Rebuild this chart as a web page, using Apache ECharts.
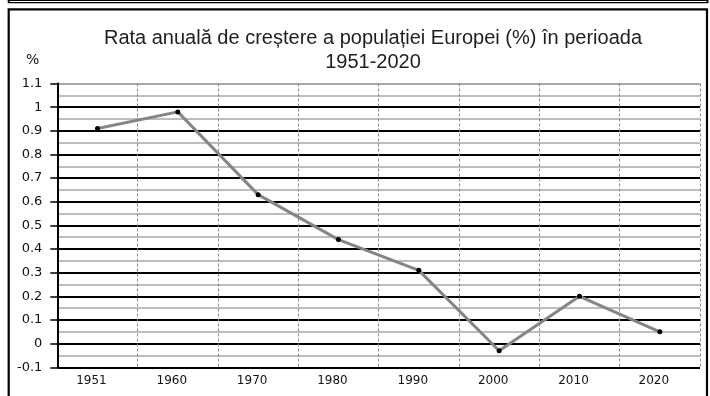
<!DOCTYPE html>
<html>
<head>
<meta charset="utf-8">
<script src="https://cdn.jsdelivr.net/npm/echarts@6/dist/echarts.min.js"></script>
<style>
  html, body { margin: 0; padding: 0; background: #fff; }
  #chart { width: 710px; height: 396px; }
</style>
</head>
<body>
<div id="chart"></div>
<script>
// Annual growth rate of Europe's population, 1951-2020
const years = ['1951', '1960', '1970', '1980', '1990', '2000', '2010', '2020'];
const growthRate = [0.91, 0.98, 0.63, 0.44, 0.31, -0.03, 0.20, 0.05];
const titleLines = ['Rata anuală de creștere a populației Europei (%) în perioada', '1951-2020'];
const unitLabel = '%';

const yMin = -0.1, yMax = 1.1, yStep = 0.1;

// major gridlines are black, the top edge line is grey
const majorCount = Math.round((yMax - yMin) / yStep) + 1;
const majorColors = [];
for (let i = 0; i < majorCount; i++) majorColors.push(i === majorCount - 1 ? '#a8a8a8' : '#000');

const chart = echarts.init(document.getElementById('chart'), null, { renderer: 'canvas' });

chart.setOption({
  animation: false,
  backgroundColor: '#fff',
  title: {
    text: titleLines.join('\n'),
    left: 368,
    textAlign: 'center',
    top: 21,
    textStyle: {
      fontFamily: 'Liberation Sans',
      fontSize: 20,
      fontWeight: 'normal',
      color: '#1e1e1e',
      lineHeight: 24
    }
  },
  graphic: [
    // frame around the chart
    { type: 'rect', shape: { x: 8.7, y: 9.3, width: 698.3, height: 400 },
      style: { fill: 'none', stroke: '#000', lineWidth: 2.2 }, z: 100 },
    // edge of the box above
    { type: 'line', shape: { x1: 8, y1: 0.5, x2: 708, y2: 0.5 }, style: { stroke: '#000', lineWidth: 1.2 }, z: 100 },
    { type: 'line', shape: { x1: 8, y1: 2.7, x2: 708, y2: 2.7 }, style: { stroke: '#000', lineWidth: 1.2 }, z: 100 },
    { type: 'line', shape: { x1: 8.7, y1: 0, x2: 8.7, y2: 3 }, style: { stroke: '#000', lineWidth: 2 }, z: 100 },
    { type: 'line', shape: { x1: 707.5, y1: 0, x2: 707.5, y2: 3 }, style: { stroke: '#000', lineWidth: 2 }, z: 100 },
    // unit label
    { type: 'text', left: 26, top: 53,
      style: { text: unitLabel, font: '14px "DejaVu Sans"', fill: '#111' } }
  ],
  grid: { left: 57.3, right: 10, top: 83.5, bottom: 28.7, containLabel: false },
  xAxis: {
    type: 'category',
    data: years,
    boundaryGap: true,
    axisLine: { show: false },
    axisTick: { show: false },
    axisLabel: {
      fontFamily: 'DejaVu Sans',
      fontSize: 12,
      color: '#111',
      margin: 8,
      padding: [0, 12, 0, 0],
      interval: 0
    },
    splitLine: {
      show: true,
      interval: 0,
      lineStyle: { color: '#8c8c8c', width: 1, type: [3, 2] }
    }
  },
  yAxis: {
    type: 'value',
    min: yMin,
    max: yMax,
    interval: yStep,
    axisLine: { show: true, onZero: false, lineStyle: { color: '#000', width: 2 } },
    axisTick: { show: true, length: 7, lineStyle: { color: '#000', width: 1.5 } },
    axisLabel: {
      fontFamily: 'DejaVu Sans',
      fontSize: 13,
      color: '#111',
      margin: 15,
      formatter: v => String(Math.round(v * 10) / 10)
    },
    splitLine: { show: true, lineStyle: { color: majorColors, width: 2 } },
    minorTick: { show: false, splitNumber: 2 },
    minorSplitLine: { show: true, lineStyle: { color: '#a8a8a8', width: 1.5 } }
  },
  series: [{
    type: 'line',
    data: growthRate,
    symbol: 'circle',
    symbolSize: 5,
    itemStyle: { color: '#000' },
    lineStyle: { color: '#858585', width: 3 },
    z: 10
  }]
});
</script>
</body>
</html>
